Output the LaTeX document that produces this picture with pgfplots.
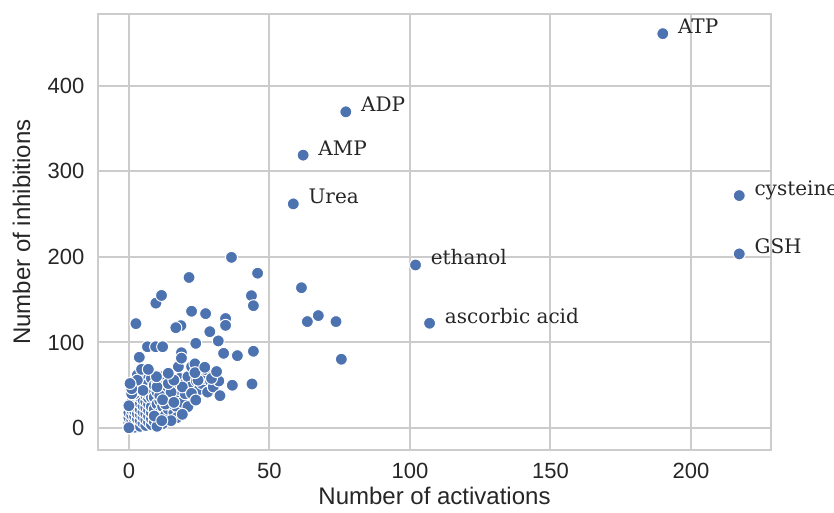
\documentclass[border=0pt]{standalone}
\usepackage{fontspec}
\setmainfont{Liberation Sans}
\newfontfamily\annfont{DejaVu Serif}
\usepackage{pgfplots}
\pgfplotsset{compat=1.18}
\definecolor{sbblue}{HTML}{4C72B0}
\definecolor{gridc}{gray}{0.8}
\definecolor{txtc}{gray}{0.15}
\begin{document}
\begin{tikzpicture}
\useasboundingbox (-49pt,-31.5pt) rectangle (368pt,225pt);
\begin{axis}[
  at={(0,0)}, anchor=south west,
  scale only axis, width=336.5pt, height=218pt,
  xmin=-11, xmax=228.5, ymin=-25.7, ymax=484,
  xtick={0,50,100,150,200}, ytick={0,100,200,300,400},
  grid=major, major grid style={gridc, line width=1pt},
  axis line style={gridc, line width=1.25pt},
  major tick length=0pt,
  tick label style={font=\fontsize{11}{13}\selectfont, text=txtc},
  /pgf/number format/assume math mode=true,
  yticklabel style={xshift=-3.3pt},
  xticklabel style={yshift=-2.8pt},
  xlabel={Number of activations}, ylabel={Number of inhibitions},
  label style={font=\fontsize{12}{14}\selectfont, text=txtc},
  xlabel style={at={(axis description cs:0.5,-0.126)}, anchor=base},
  ylabel style={at={(axis description cs:-0.101,0.5)}, anchor=base},
  clip=false,
]
\addplot[only marks, mark=*, mark size=3pt, mark options={fill=sbblue, draw=white, line width=0.5pt}] coordinates {
(0,0) (0,6) (0,12) (0,18) (0,26)
(1,3) (1,9) (1,15) (1,21) (1,30)
(2,1) (2,8) (2,14) (2,20) (2,27) (2,34)
(3,4) (3,11) (3,17) (3,24) (3,31) (3,38)
(4,2) (4,9) (4,16) (4,22) (4,29) (4,36) (4,42)
(5,6) (5,13) (5,19) (5,26) (5,33)
(6,3) (6,10) (6,17) (6,24) (6,31) (6,38)
(7,7) (7,14) (7,21) (7,28) (7,35)
(8,4) (8,11) (8,18) (8,25)
(2,40) (3,45) (4,48) (4,55) (5,50) (6,45) (6,60) (7,40) (7,52) (8,36) (8,45) (8,58) (9,8) (9,22) (9,36) (9,50) (10,12) (10,28) (10,42) (10,55)
(11,18) (11,32) (11,48) (12,5) (12,25) (12,40) (12,60) (13,15) (13,35) (13,50) (14,22) (14,44) (15,30) (15,55) (16,18) (16,40) (16,50)
(17,25) (17,35) (18,45) (18,58) (19,30) (20,40) (20,52) (21,60) (21,25) (22,48) (24,55) (25,45) (26,52) (27,58) (28,42) (29,55)
(30,48) (30,60) (32,55) (14,28) (3,62) (1,40) (10,2) (9,14) (11,38) (13,28) (15,42) (17,12) (19,48) (12,33) (14,52) (16,30) (10,48) (5,44) (3,56) (1,46)
(17.6,71.7) (27.6,68) (24.6,56) (29.4,58) (22.3,71.7) (16,56) (9.8,60)
(0.4,52) (2.5,122) (3.7,82.7) (6.6,95) (9.5,95) (12,95) (9.6,146) (11.6,155) (21.4,176) (22.3,136.5) (27.3,133.7)
(18.5,119.7) (16.7,117.3) (34.4,128) (34.4,120) (28.8,112.6) (31.8,101.8) (23.8,99) (33.7,87.3) (38.6,84.6) (44.3,89.7)
(18.7,88) (18.7,81.7) (36.5,199.5) (45.8,181) (43.6,154.7) (44.3,143) (4.5,68.6) (6.9,68.6) (14,64) (23.5,75) (23.5,64.7)
(27,71) (31.2,66) (36.8,50) (43.8,51.5) (32.4,37.8) (22.3,40.5) (23.8,32.7) (19,16) (15,8.6) (11.7,8.6) (0,0.3) (0,26)
(61.4,164) (63.5,124.4) (67.4,131.4) (73.7,124.4) (75.6,80.4)
(190,461) (77.2,369.6) (62,319) (58.5,262) (102,190.6) (107,122.5) (217.2,271.7) (217.2,203.5)
};
\begin{scope}[every node/.style={anchor=base west, inner sep=0pt, font=\annfont\fontsize{10}{12}\selectfont, text=txtc}]
\node at (axis cs:195.3,461) {ATP};
\node at (axis cs:82.5,369.6) {ADP};
\node at (axis cs:67.3,319) {AMP};
\node at (axis cs:63.8,262) {Urea};
\node at (axis cs:107.3,190.6) {ethanol};
\node at (axis cs:112.3,122.5) {ascorbic acid};
\node at (axis cs:222.5,271.7) {cysteine};
\node at (axis cs:222.5,203.5) {GSH};
\end{scope}
\end{axis}
\end{tikzpicture}
\end{document}
